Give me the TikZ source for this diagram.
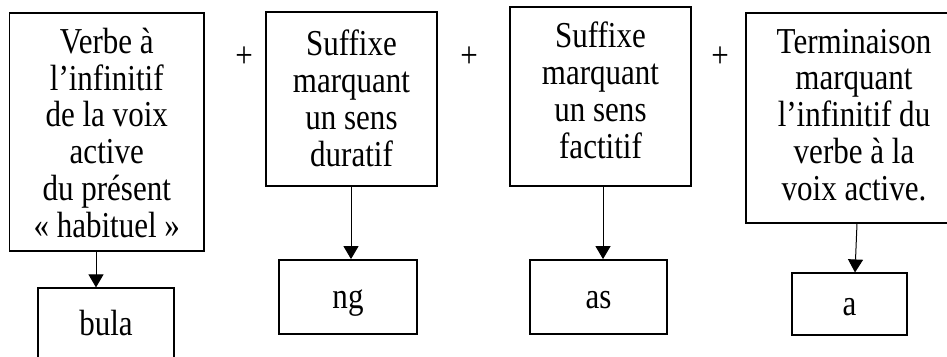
\documentclass[tikz,border=0pt]{standalone}
\usepackage{fontspec}
\setmainfont{Liberation Serif}
\newfontfamily\stretchserif[FakeStretch=0.85]{Liberation Serif}
\usetikzlibrary{arrows.meta}
\newcommand{\bigfont}{\stretchserif\fontsize{36.5}{36.7}\selectfont}
\begin{document}
\begin{tikzpicture}[x=1pt,y=-1pt,
  box/.style={draw, line width=1.8pt, inner sep=0pt, align=center, font=\bigfont, text depth=0pt},
  plus/.style={inner sep=0pt, font=\bigfont},
  arr/.style={line width=1pt, -{Triangle[width=15pt,length=13pt]}}]
\path[use as bounding box, clip] (0,0) rectangle (947,356);
% upper boxes
\node[box, minimum width=194.5pt, minimum height=238pt, text height=210.6pt] (b1) at (106.75,131.7)
  {Verbe à\\l’infinitif\\de la voix\\active\\du présent\\« habituel »};
\node[box, minimum width=171pt, minimum height=173.4pt, text height=134pt] (b2) at (351.5,99)
  {Suffixe\\marquant\\un sens\\duratif};
\node[box, minimum width=181pt, minimum height=178.4pt, text height=123pt] (b3) at (600.5,96.5)
  {Suffixe\\marquant\\un sens\\factitif};
\node[box, minimum width=216pt, minimum height=210pt, text height=164.6pt] (b4) at (854,117.7)
  {Terminaison\\marquant\\l’infinitif du\\verbe à la\\voix active.};
% lower boxes
\node[box, minimum width=136pt, minimum height=74pt, text height=19.4pt] (bula) at (106,325.3) {bula};
\node[box, minimum width=138pt, minimum height=74pt, text height=22.6pt] (ng) at (348,297) {ng};
\node[box, minimum width=137pt, minimum height=74pt, text height=22.6pt] (as) at (598.5,297) {as};
\node[box, minimum width=115pt, minimum height=61.7pt, text height=23pt] (a) at (849.5,304.2) {a};
% plus signs
\node[plus] (p1) at (244,57) {+};
\node[plus] (p2) at (469,57) {+};
\node[plus] (p3) at (720,57) {+};
% arrows
\coordinate (x1) at (96,0);
\coordinate (x2) at (351,0);
\coordinate (x3) at (603,0);
\coordinate (x4s) at (857,0);
\coordinate (x4e) at (855,0);
\draw[arr] (b1.south -| x1) -- (bula.north -| x1);
\draw[arr] (b2.south -| x2) -- (ng.north -| x2);
\draw[arr] (b3.south -| x3) -- (as.north -| x3);
\draw[arr] (b4.south -| x4s) -- (a.north -| x4e);
\end{tikzpicture}
\end{document}
